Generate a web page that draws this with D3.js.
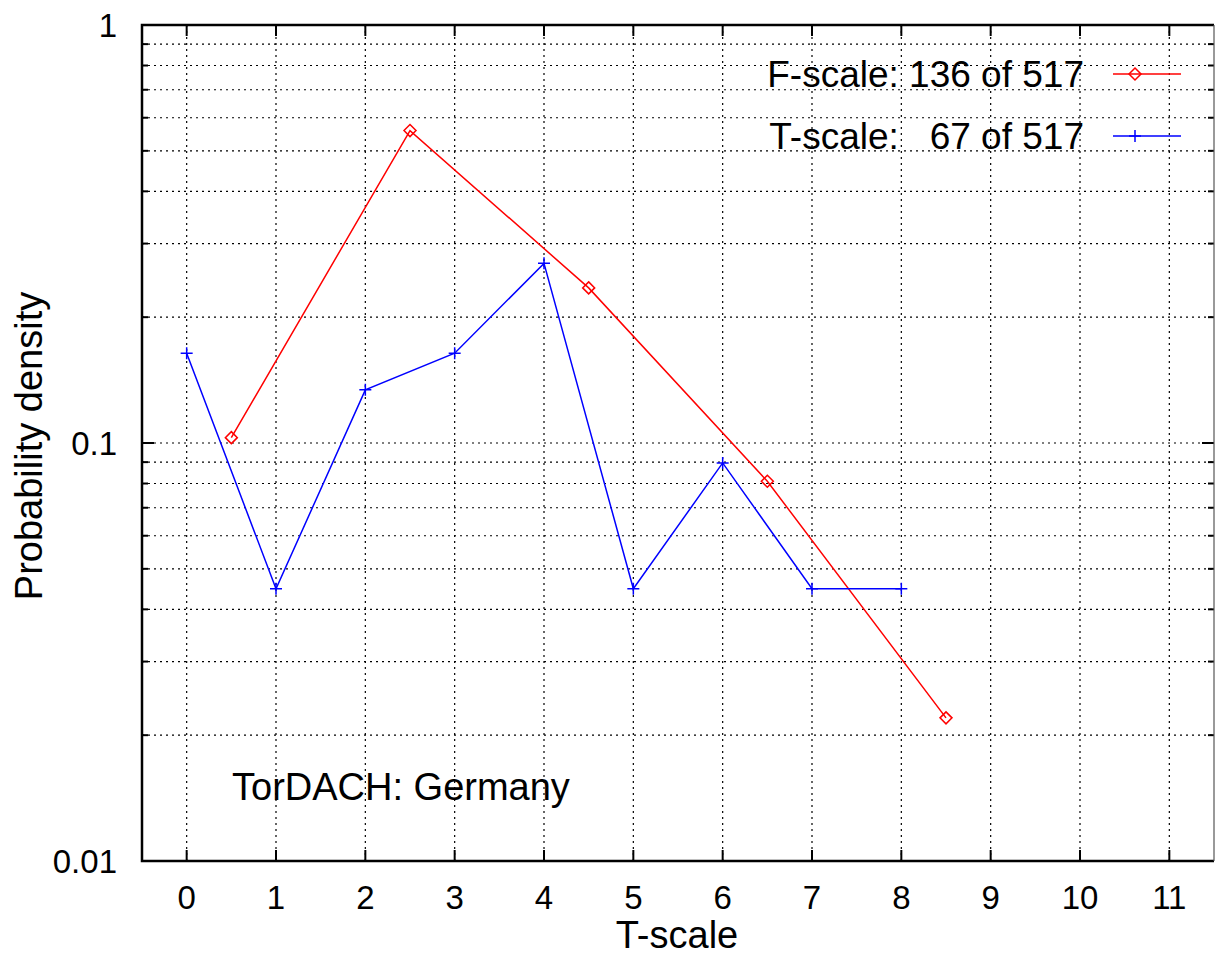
<!DOCTYPE html>
<html lang="en">
<head>
  <meta charset="UTF-8">
  <title>TorDACH: Germany</title>
  <script src="https://d3js.org/d3.v7.min.js"></script>
  <style>
    * { margin: 0; padding: 0; box-sizing: border-box; }
    body { background: #fff; width: 1215px; height: 960px; overflow: hidden; }
    svg text { font-family: 'Liberation Sans', Arial, sans-serif; fill: #000; }
  </style>
</head>
<body>
  <svg id="chart" width="1215" height="960"></svg>

  <script>
    // F-scale points sit at half-integer x, T-scale at integers
    const fScaleX = [0.5, 2.5, 4.5, 6.5, 8.5];
    const fScaleY = [0.103, 0.559, 0.235, 0.081, 0.022];

    const tScaleX = [0, 1, 2, 3, 4, 5, 6, 7, 8];
    const tScaleY = [0.164, 0.0448, 0.134, 0.164, 0.269, 0.0448, 0.0896, 0.0448, 0.0448];

    const xTicks = [0, 1, 2, 3, 4, 5, 6, 7, 8, 9, 10, 11];
    const yTicks = [0.01, 0.1, 1];
    const yTickLabels = ["0.01", "0.1", "1"];

    const legendLabels = ["F-scale: 136 of 517", "T-scale:   67 of 517"];

    const margin = { left: 142, top: 25, right: 1214, bottom: 861 };
    const tickFont = 33;
    const titleFont = 38;
    const legendFont = 37;

    const svg = d3.select("#chart");

    const x = d3.scaleLinear().domain([-0.5, 11.5]).range([margin.left, margin.right]);
    const y = d3.scaleLog().domain([0.01, 1]).range([margin.bottom, margin.top]);

    // minor log positions 2..9 in each decade
    const minorY = [];
    [0.01, 0.1].forEach(d => {
      for (let k = 2; k <= 9; k++) minorY.push(d * k);
    });

    // grid
    const grid = svg.append("g").attr("stroke", "#000").attr("stroke-width", 1.2)
      .attr("stroke-dasharray", "2,4");
    grid.selectAll(".gx").data(xTicks).enter().append("line")
      .attr("x1", d => x(d)).attr("x2", d => x(d))
      .attr("y1", margin.top).attr("y2", margin.bottom);
    grid.selectAll(".gy").data(minorY.concat([0.1])).enter().append("line")
      .attr("x1", margin.left).attr("x2", margin.right)
      .attr("y1", d => y(d)).attr("y2", d => y(d));

    // ticks (inward, on all four sides)
    const ticks = svg.append("g").attr("stroke", "#000").attr("stroke-width", 2);
    xTicks.forEach(d => {
      ticks.append("line").attr("x1", x(d)).attr("x2", x(d))
        .attr("y1", margin.bottom).attr("y2", margin.bottom - 11);
      ticks.append("line").attr("x1", x(d)).attr("x2", x(d))
        .attr("y1", margin.top).attr("y2", margin.top + 11);
    });
    yTicks.forEach(d => {
      ticks.append("line").attr("x1", margin.left).attr("x2", margin.left + 12)
        .attr("y1", y(d)).attr("y2", y(d));
      ticks.append("line").attr("x1", margin.right).attr("x2", margin.right - 12)
        .attr("y1", y(d)).attr("y2", y(d));
    });
    minorY.forEach(d => {
      ticks.append("line").attr("x1", margin.left).attr("x2", margin.left + 6)
        .attr("y1", y(d)).attr("y2", y(d));
      ticks.append("line").attr("x1", margin.right).attr("x2", margin.right - 6)
        .attr("y1", y(d)).attr("y2", y(d));
    });

    // border
    svg.append("path")
      .attr("d", `M${margin.right},${margin.top}H${margin.left}V${margin.bottom}H${margin.right}`)
      .attr("fill", "none").attr("stroke", "#000").attr("stroke-width", 2.5);
    svg.append("line")
      .attr("x1", margin.right).attr("x2", margin.right)
      .attr("y1", margin.top).attr("y2", margin.bottom)
      .attr("stroke", "#555").attr("stroke-width", 1.2);

    // tick labels
    svg.selectAll(".xl").data(xTicks).enter().append("text")
      .attr("x", d => x(d)).attr("y", 909)
      .attr("text-anchor", "middle").attr("font-size", tickFont)
      .text(d => d);
    svg.selectAll(".yl").data(yTicks).enter().append("text")
      .attr("x", 117).attr("y", d => y(d) + 12)
      .attr("text-anchor", "end").attr("font-size", tickFont)
      .text((d, i) => yTickLabels[i]);

    // axis titles
    svg.append("text").attr("x", 677).attr("y", 948)
      .attr("text-anchor", "middle").attr("font-size", titleFont).text("T-scale");
    svg.append("text")
      .attr("transform", `translate(42,446) rotate(-90)`)
      .attr("text-anchor", "middle").attr("font-size", titleFont).text("Probability density");

    svg.append("text").attr("x", 232).attr("y", 800)
      .attr("font-size", titleFont).text("TorDACH: Germany");

    // series
    const line = d3.line().x(d => x(d[0])).y(d => y(d[1]));
    const fData = fScaleX.map((v, i) => [v, fScaleY[i]]);
    const tData = tScaleX.map((v, i) => [v, tScaleY[i]]);

    const diamond = (g, cx, cy) => g.append("path")
      .attr("d", `M${cx},${cy - 6}L${cx + 6},${cy}L${cx},${cy + 6}L${cx - 6},${cy}Z`)
      .attr("fill", "none").attr("stroke", "#ff0000").attr("stroke-width", 1.5);
    const plus = (g, cx, cy) => g.append("path")
      .attr("d", `M${cx - 6},${cy}H${cx + 6}M${cx},${cy - 6}V${cy + 6}`)
      .attr("fill", "none").attr("stroke", "#0000ff").attr("stroke-width", 1.5);

    const fG = svg.append("g");
    fG.append("path").datum(fData).attr("d", line)
      .attr("fill", "none").attr("stroke", "#ff0000").attr("stroke-width", 1.5);
    fData.forEach(d => diamond(fG, x(d[0]), y(d[1])));

    const tG = svg.append("g");
    tG.append("path").datum(tData).attr("d", line)
      .attr("fill", "none").attr("stroke", "#0000ff").attr("stroke-width", 1.5);
    tData.forEach(d => plus(tG, x(d[0]), y(d[1])));

    // legend
    const legendY = [74, 136];
    const legend = svg.append("g");
    legendLabels.forEach((lbl, i) => {
      legend.append("text").attr("x", 1084).attr("y", legendY[i] + 13)
        .attr("text-anchor", "end").attr("font-size", legendFont)
        .attr("xml:space", "preserve").style("white-space", "pre")
        .text(lbl);
      legend.append("line").attr("x1", 1113).attr("x2", 1181)
        .attr("y1", legendY[i]).attr("y2", legendY[i])
        .attr("stroke", i === 0 ? "#ff0000" : "#0000ff").attr("stroke-width", 1.5);
      if (i === 0) diamond(legend, 1135, legendY[i]);
      else plus(legend, 1135, legendY[i]);
    });
  </script>
</body>
</html>
